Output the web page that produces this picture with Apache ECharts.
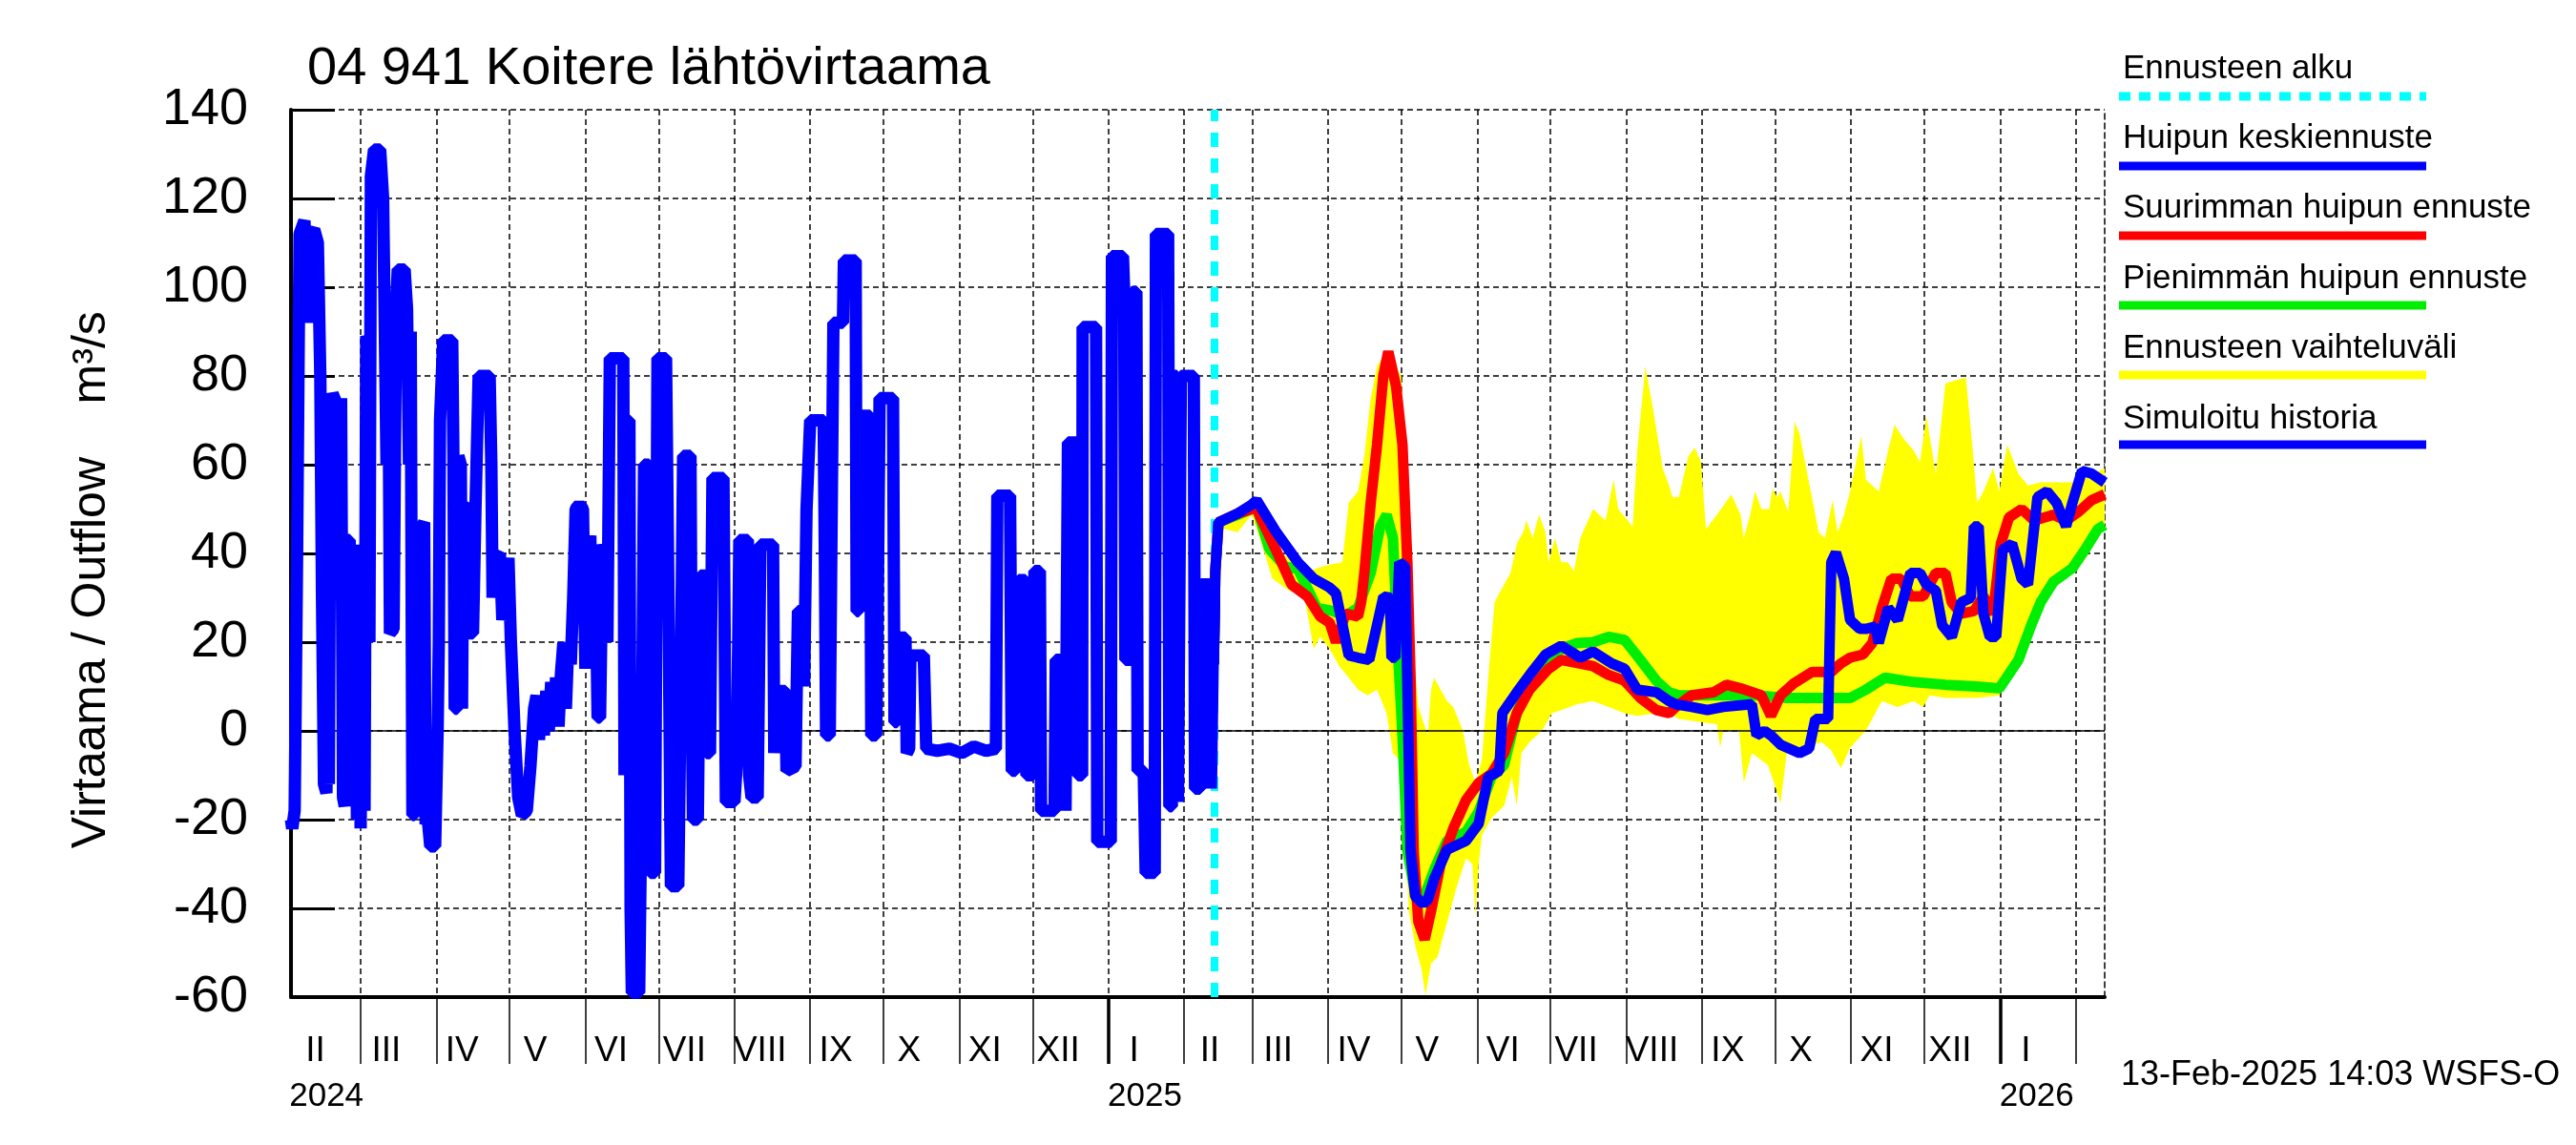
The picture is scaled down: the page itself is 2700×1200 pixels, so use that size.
<!DOCTYPE html>
<html><head><meta charset="utf-8">
<script src="https://cdn.jsdelivr.net/npm/echarts@6/dist/echarts.min.js"></script>
<style>html,body{margin:0;padding:0;background:#fff}#c{width:2700px;height:1200px}</style>
</head><body><div id="c"></div>
<script>
// ---- data (x = days since 2024-02-01) ----
const titleText = '04 941 Koitere lähtövirtaama';
const yAxisName = 'Virtaama / Outflow    m³/s\u00a0\u00a0\u00a0\u00a0';
const stampText = '13-Feb-2025 14:03 WSFS-O';
const monthLabels = ['I','II','III','IV','V','VI','VII','VIII','IX','X','XI','XII'];
const yMin = -60, yMax = 140, yStep = 20;
const xMin = 0.5, xMax = 742.8;
const forecastStartDay = 378.5;

const simHistory = [
[0.5,-20],[1,-22],[2,-18],[3,40],[4,112],[6,115],[7,100],[7.7,92],[8.2,112],[10,113],[11.5,110],[12.5,80],[13.2,30],[14,-12],[15,-14],[15.5,10],[16,-12],[16.6,70],[17.5,76],[19,74],[20,30],[21,75],[21.8,-15],[22.5,-17],[23.2,43],[24.5,43],[25.5,-16],[26.5,40],[27.5,-20],[28.5,42],[29,-22],[30,40],[30.6,-18],[31.3,89],[32,88],[32.6,20],[33.2,125],[34.5,131],[37,131],[38.2,120],[38.8,95],[39.6,60],[40.3,95],[41,22],[42.5,23],[43.5,95],[44.2,104],[47,104],[48,95],[48.8,60],[49.5,90],[50.2,-19],[51,-19],[51.6,45],[52.3,40],[53,-19],[54,46],[55,47],[55.6,-21],[56.5,-20],[57.5,-26],[59.5,-26],[60.5,0],[61,20],[61.5,70],[62.8,88],[66.5,88],[67,60],[67.5,5],[68.5,5],[69,62],[70,60],[70.5,5],[71,50],[73,51],[73.5,22],[75,22],[76,50],[77.3,80],[81.8,80],[82.5,60],[83,30],[83.7,39],[86,40],[87,25],[88,30],[89.5,39],[90.5,20],[92,0],[93.5,-15],[95,-19],[97,-18],[98.5,-8],[100,5],[101,8],[102,-2],[103,8],[104,-1],[105,9],[106,0],[107,11],[108,2],[109,12],[110,1],[111,13],[112,20],[113,5],[114,20],[115,15],[116,30],[117,50],[118.5,51],[120,50],[121,14],[122,40],[123,44],[124,14],[125,42],[126,3],[127,3],[128,42],[129,40],[130,20],[131,84],[136.5,84],[137,-10],[137.5,70],[139,70],[139.5,-40],[140,-59],[143,-59],[144,-12],[145,60],[147,60],[147.5,-32],[149.5,-32],[150.5,84],[154,84],[155,30],[156,-35],[159,-35],[160,10],[161,62],[164,62],[164.5,10],[165,-20],[167,-20],[168,35],[170,35],[170.5,-5],[172,-5],[173,57],[177.5,57],[178.5,-16],[182,-16],[183,-7],[184,43],[187.5,43],[188,-10],[189,-15],[191.5,-15],[192.6,42],[197.8,42],[198.3,-5],[199,9],[202.8,9],[203.3,-9],[207,-8],[207.5,10],[208,27],[210,27],[210.5,10],[211.5,50],[213,70],[218.5,70],[219,40],[219.5,-1],[221,-1],[221.8,50],[222.5,92],[226.4,92],[226.8,106],[231.6,106],[232,27],[232.8,27],[233.2,71],[237.5,71],[238,-1],[240,-1],[240.5,20],[241.4,75],[246.9,75],[247.5,2],[248.5,2],[249,21],[252,21],[252.5,-5],[253.5,-4],[254,17],[259.5,17],[260.5,-4],[265,-4.5],[270,-4],[275,-5],[280,-3.5],[285,-4.5],[289,-4],[289.6,53],[294.8,53],[295.5,-9],[297,-9],[298.3,34],[301,34],[301.5,-10],[304,-10],[304.8,36],[307,36],[307.5,-18],[313,-18],[313.5,16],[317,16],[317.5,-18],[318.5,65],[322,65],[322.5,-10],[324.3,-10],[324.5,91],[330,91],[330.5,-25],[336,-25],[336.5,107],[341,107],[341.5,99],[342,16],[344.5,16],[345,99],[346.5,99],[347,-9],[349.5,-9],[350.3,-32],[354,-32],[354.5,112],[359.5,112],[360,-17],[361,-17],[361.5,80],[363,80],[363.5,-16],[364.7,80],[370,80],[370.5,-13],[372.5,-13],[373,33],[376.5,33],[377,-13],[377.7,15],[378.3,30]
];

const meanPeak = [
[378.2,15],[378.8,36],[380.1,47],[387.9,49],[393.7,51],[395.7,52],[403.5,45],[412.6,38],[419.1,34.3],[425.6,32.3],[428.2,31],[433.4,17],[437.2,16.5],[441.8,16],[447.6,30.3],[450.3,30],[450.9,16.5],[452.5,16.5],[454.1,38],[456.5,37],[458.7,-27],[460.6,-37.3],[463.9,-39],[465.8,-38],[468.4,-33.3],[473.6,-26.8],[481.4,-24.8],[486.6,-20.9],[490.5,-10.4],[495,-9],[496.3,4],[502.2,8.7],[507.4,12.6],[513.9,17.2],[520.4,19.2],[528.2,16.5],[533.4,17.9],[541.1,15.2],[546.3,14],[551.5,9.3],[559.3,8.7],[564.5,6.7],[567.2,6],[573.7,5.4],[580.2,4.7],[586.7,5.4],[598.4,6],[600.3,-1],[603.6,0],[606.2,-1],[610.1,-3.1],[617.9,-5],[621.8,-4],[624.4,2.7],[629.6,2.7],[630.9,38],[632.8,40.2],[636.1,34.3],[638.6,25],[642.5,23],[645.1,23],[649,23.5],[650.3,19.8],[654.2,27.7],[658.1,25],[663.3,35.6],[667.2,35.6],[669.8,33],[673.7,31.6],[676.3,23.8],[680.2,21.2],[684.1,29],[688,30],[689.3,46.1],[691.2,46.1],[693.2,26.4],[695.8,21.2],[698.4,21.2],[701,40.8],[704.9,42.2],[708.8,34.3],[711.4,33],[715.3,52.7],[719.2,54],[723.1,51.4],[727,46.1],[729.6,51.4],[733.5,58.6],[737.4,58],[742.8,56]
];

const maxPeak = [
[378.2,15],[378.8,36],[380.1,47],[387.9,49],[393.7,50],[395.7,50],[403.5,40.9],[410,33],[416.5,30.3],[421.7,25.8],[425.6,24.4],[428.2,20],[432.1,26.4],[437.2,25.8],[438.5,29],[439.8,35.6],[442.4,51.4],[445,64.5],[447.6,80.2],[449.6,85.5],[452.8,77.6],[455.4,64.5],[457.4,38],[458.7,12],[460,-27.4],[461.9,-43],[464.5,-47],[467.1,-40.6],[471,-30],[476.2,-22],[481.4,-15.6],[486.6,-11.7],[491.8,-9.7],[497,-5],[502.2,4],[507.4,9.3],[515.2,14],[520.4,16],[526.9,15.3],[533.4,14.6],[539.8,12.6],[546.3,11.3],[552.8,7.4],[559.3,4.7],[564.5,4],[567.2,5.4],[573.7,8],[582.8,8.7],[588,10.4],[594.5,9.5],[602.3,8],[606.2,3.4],[610.1,8],[615.3,10.6],[623.1,13.3],[630.9,13.3],[634.8,15.2],[638.6,16.5],[643.8,17.2],[647.7,19.8],[651.6,27.7],[655.5,34.3],[659.4,34.3],[663.3,30.3],[668.5,30.3],[673.7,35.6],[677.6,35.6],[680.2,29],[684.1,26.4],[689.3,27],[693.2,30.3],[697.1,26.4],[700.3,42.2],[703.6,48.1],[708.8,50],[714,47.4],[721.8,48.7],[727,47.4],[732.2,49.4],[737.4,52],[742.8,53.3]
];

const minPeak = [
[378.2,15],[378.8,36],[380.1,47],[387.9,48.7],[393.7,50],[395.7,50.5],[400.9,41],[407.4,37],[412.6,36.5],[420.4,27.7],[426.9,27],[432.1,26],[437.2,27.7],[442.4,35.6],[446.3,46],[448.9,48.7],[451.5,43.5],[453.5,18.5],[455.4,-1],[457.4,-27],[460.6,-36.6],[463.9,-38],[468.4,-31.3],[473.6,-24.8],[481.4,-22.8],[486.6,-18.2],[491.8,-10.4],[497,-7.7],[502.2,4],[507.4,10.6],[513.9,15.2],[520.4,18.5],[526.9,19.8],[533.4,20],[539.8,21.2],[546.3,20.5],[552.8,16],[559.3,11.3],[564.5,8.7],[568.5,8],[586.7,8],[599.7,8],[612.7,7.4],[625.7,7.4],[638.6,7.4],[645.1,9.3],[652.9,12],[664.6,11],[677.6,10.4],[690.6,10],[699.7,9.6],[707.5,16],[712.7,23.8],[716.6,29],[721.8,33.6],[729.6,36.7],[734.8,40.9],[740,45.5],[742.8,46.4]
];

const rangeHigh = [
[378.8,48],[387.9,50],[393.1,50],[395.7,51.5],[403.5,41],[411.3,38],[415.2,35.6],[421.7,36.9],[425.6,37.5],[430.8,38],[433.4,51.4],[437.2,54],[439.8,62],[442.4,75],[445,82.2],[448.9,85.5],[451.5,82.5],[454.8,80.2],[456.7,64.5],[458.7,25],[461.9,5.4],[465.8,-1],[467.1,9.3],[468.4,12],[469.7,10.6],[473.6,6.7],[476.2,5.4],[480.1,0.1],[482.7,-7.7],[485.3,-11.7],[487.9,-6.5],[490.5,12],[493.1,29],[495.7,31.7],[499.6,35.6],[502.2,42.2],[504.8,44.8],[506.1,47.4],[508.7,43.5],[511.3,48.7],[513.9,44.8],[515.2,38],[517.8,43.5],[520.4,38],[523,38],[525.6,36],[528.2,43.5],[533.4,50],[538.5,47.4],[541.8,56.6],[543.7,50],[547.6,47.4],[549.6,46],[551.5,63.2],[554.8,82.2],[558,72.4],[561.9,59.2],[564.5,55.3],[565.9,52.7],[568.5,52.7],[572.4,61.9],[575,63.8],[577.6,60.6],[579.6,45.5],[584.1,48.7],[590,53.3],[593.8,48.7],[595.1,43.5],[597.7,48.7],[599.7,54],[602.3,50],[605.5,50],[606.8,54.6],[608.8,52.7],[610.1,54],[613.3,49.4],[615.9,69.7],[617.9,67],[621.1,57.9],[624.4,48.7],[625.7,44.8],[628.3,43.5],[631.5,52],[633.5,44.8],[636.1,48.7],[638.6,54],[643.2,66.5],[645.1,56.6],[650.3,54],[654.2,63.2],[656.8,69],[660.7,65.7],[664.6,63.2],[667.2,60.6],[669.8,71.1],[673.7,57.9],[677.6,78.3],[681.5,79],[686,79.6],[688.6,64.5],[690.6,51.4],[693.2,54],[697.1,59.2],[699.7,54],[702.9,64.5],[707.5,57.9],[711.4,55.3],[716.6,56],[724.4,56],[729.6,56],[734.8,57],[742.8,59.2]
];

const rangeLow = [
[378.8,46],[387.9,44.8],[393.7,48.7],[397,43.5],[402.2,34.3],[408.7,31.7],[415.2,30.3],[419.1,18.5],[421.7,21.2],[425.6,18.5],[429.5,14.6],[433.4,12],[437.2,9.3],[441.1,8],[445,9.3],[448.9,4],[451.5,-5],[454.1,-6.5],[455.4,-14.3],[458,-40.6],[460.6,-48.4],[463.2,-53.7],[464.8,-59.6],[467.1,-52.4],[469.7,-51],[473.6,-43.2],[477.5,-35.3],[481.4,-28.7],[484,-30],[485.3,-42],[486.6,-30],[487.9,-23.5],[491.8,-19.6],[497,-16.9],[500.2,-10.4],[502.2,-16.9],[504.1,-5],[507.4,-2.5],[512.6,0.1],[516.5,4],[520.4,4.7],[526.9,6],[533.4,6.7],[539.8,5.4],[546.3,4],[551.5,3.4],[559.3,4],[564.5,4],[568.5,2.7],[576.3,2.1],[584.1,1.5],[585.4,-3.8],[586.7,0.1],[593.2,0.1],[595.1,-11.7],[598.4,-5],[604.9,-7.7],[607.5,-11.7],[610.1,-16.3],[612.7,-5],[619.2,-3.8],[627,-2.5],[630.9,-4.4],[634.8,-8.4],[638.6,-3.8],[645.1,0.1],[651.6,6.7],[658.1,5.4],[664.6,6.7],[668.5,5.4],[671.1,8],[677.6,7.4],[690.6,7.4],[699.7,8],[703.6,13.3],[710.1,17.9],[716.6,27.7],[724.4,34.3],[730.9,38.2],[736.1,42.8],[742.8,45.5]
];

// ---- calendar helpers ----
const DAY = 86400000;
const origin = Date.UTC(2024, 1, 1);
const toDay = t => (t - origin) / DAY;
const dateOf = d => new Date(origin + d * DAY);
const monthStarts = [], monthLabelDays = [], yearStarts = [], yearLabelDays = [];
for (let y = 2024, m = 1; ; m++) {
  if (m > 11) { m = 0; y++; }
  const s = toDay(Date.UTC(y, m, 1));
  if (s > xMax) break;
  const e = toDay(Date.UTC(y, m + 1, 1));
  if (s >= xMin) monthStarts.push(s);
  if (e <= xMax + 5) monthLabelDays.push(s + 10.5);
  if (m === 0) yearStarts.push(s);
  if (m === 0 || (y === 2024 && m === 1)) yearLabelDays.push(s + 15);
}

const FONT = 'Liberation Sans, Arial, Helvetica, sans-serif';
const legendItems = [
  {name: 'Ennusteen alku', color: '#00ffff', dash: [12, 9]},
  {name: 'Huipun keskiennuste', color: '#0000ff'},
  {name: 'Suurimman huipun ennuste', color: '#ff0000'},
  {name: 'Pienimmän huipun ennuste', color: '#00ee00'},
  {name: 'Ennusteen vaihteluväli', color: '#ffff00'},
  {name: 'Simuloitu historia', color: '#0000ff'}
];
const legendGraphics = [];
legendItems.forEach((it, i) => {
  legendGraphics.push({type: 'text', x: 2225, y: 72 + i * 73.4,
    style: {text: it.name, fontSize: 35, fill: '#000', fontFamily: FONT, verticalAlign: 'middle', align: 'left'}});
  legendGraphics.push({type: 'line', shape: {x1: 2221, y1: 101 + i * 73, x2: 2543, y2: 101 + i * 73},
    style: {stroke: it.color, lineWidth: 9, lineDash: it.dash || null}});
});
legendGraphics.push({type: 'text', x: 2223, y: 1127,
  style: {text: stampText, fontSize: 36, fill: '#000', fontFamily: FONT, verticalAlign: 'middle', align: 'left'}});

const chart = echarts.init(document.getElementById('c'), null, {renderer: 'canvas'});
const lineSeries = (name, data, color, z, width) => ({
  name, type: 'line', data, z, symbol: 'none', showSymbol: false, smooth: false,
  lineStyle: {color, width}, itemStyle: {color}, animation: false, clip: true, silent: true
});

chart.setOption({
  animation: false,
  backgroundColor: '#fff',
  title: {text: titleText, left: 322, top: 45, padding: 0,
    textStyle: {fontSize: 56, fontWeight: 'normal', color: '#000', fontFamily: FONT}},
  grid: {left: 305, right: 494, top: 115, bottom: 155, containLabel: false, outerBoundsMode: 'none'},
  graphic: legendGraphics,
  xAxis: [{
    type: 'value', min: xMin, max: xMax, position: 'bottom',
    axisLine: {onZero: false, lineStyle: {color: '#000', width: 4}},
    axisTick: {show: true, inside: false, length: 70, lineStyle: {color: '#000', width: 1.5}, customValues: monthStarts},
    axisLabel: {customValues: monthLabelDays, margin: 38, fontSize: 37, color: '#000', fontFamily: FONT,
      formatter: v => monthLabels[dateOf(v).getUTCMonth()]},
    splitLine: {show: true, lineStyle: {color: '#000', width: 1.5, type: [6, 4]}}
  }, {
    type: 'value', min: xMin, max: xMax, position: 'bottom',
    axisLine: {show: false, onZero: false},
    axisTick: {show: true, inside: false, length: 70, lineStyle: {color: '#000', width: 3.5}, customValues: yearStarts},
    axisLabel: {customValues: yearLabelDays, margin: 87, fontSize: 35, color: '#000', fontFamily: FONT,
      formatter: v => String(dateOf(v).getUTCFullYear())},
    splitLine: {show: false}
  }],
  yAxis: [{
    type: 'value', min: yMin, max: yMax, interval: yStep, position: 'left',
    name: yAxisName, nameLocation: 'middle', nameGap: 184, nameRotate: 90,
    nameTextStyle: {fontSize: 50, color: '#000', fontFamily: FONT},
    axisLine: {show: true, onZero: false, lineStyle: {color: '#000', width: 4}},
    axisTick: {show: true, inside: true, length: 46, lineStyle: {color: '#000', width: 3}},
    axisLabel: {margin: 45, fontSize: 54, color: '#000', fontFamily: FONT},
    splitLine: {show: true, lineStyle: {color: '#000', width: 1.5, type: [6, 4]}}
  }, {
    type: 'value', min: yMin, max: yMax, interval: yStep, position: 'right',
    axisLine: {show: true, onZero: false, lineStyle: {color: '#000', width: 1.5, type: [6, 4]}},
    axisTick: {show: false}, axisLabel: {show: false}, splitLine: {show: false}
  }],
  series: [
    {name: 'zero', type: 'line', data: [], z: 1, silent: true,
      markLine: {silent: true, symbol: 'none', label: {show: false}, animation: false,
        lineStyle: {color: '#000', width: 1.5, type: 'solid'}, data: [{yAxis: 0}]}},
    {name: 'Ennusteen vaihteluväli', type: 'custom', z: 2, silent: true, animation: false,
      data: [[forecastStartDay, 0]],
      renderItem: (params, api) => {
        const pts = rangeHigh.map(p => api.coord(p)).concat(rangeLow.slice().reverse().map(p => api.coord(p)));
        return {type: 'polygon', shape: {points: pts}, style: {fill: '#ffff00', stroke: null}};
      }},
    {name: 'Ennusteen alku', type: 'line', data: [], z: 3, silent: true,
      markLine: {silent: true, symbol: 'none', label: {show: false}, animation: false,
        lineStyle: {color: '#00ffff', width: 8, type: [15, 12]}, data: [{xAxis: forecastStartDay}]}},
    lineSeries('Pienimmän huipun ennuste', minPeak, '#00ee00', 4, 11),
    lineSeries('Suurimman huipun ennuste', maxPeak, '#ff0000', 5, 11),
    lineSeries('Huipun keskiennuste', meanPeak, '#0000ff', 6, 11),
    lineSeries('Simuloitu historia', simHistory, '#0000ff', 7, 13)
  ]
});
</script>
</body></html>
